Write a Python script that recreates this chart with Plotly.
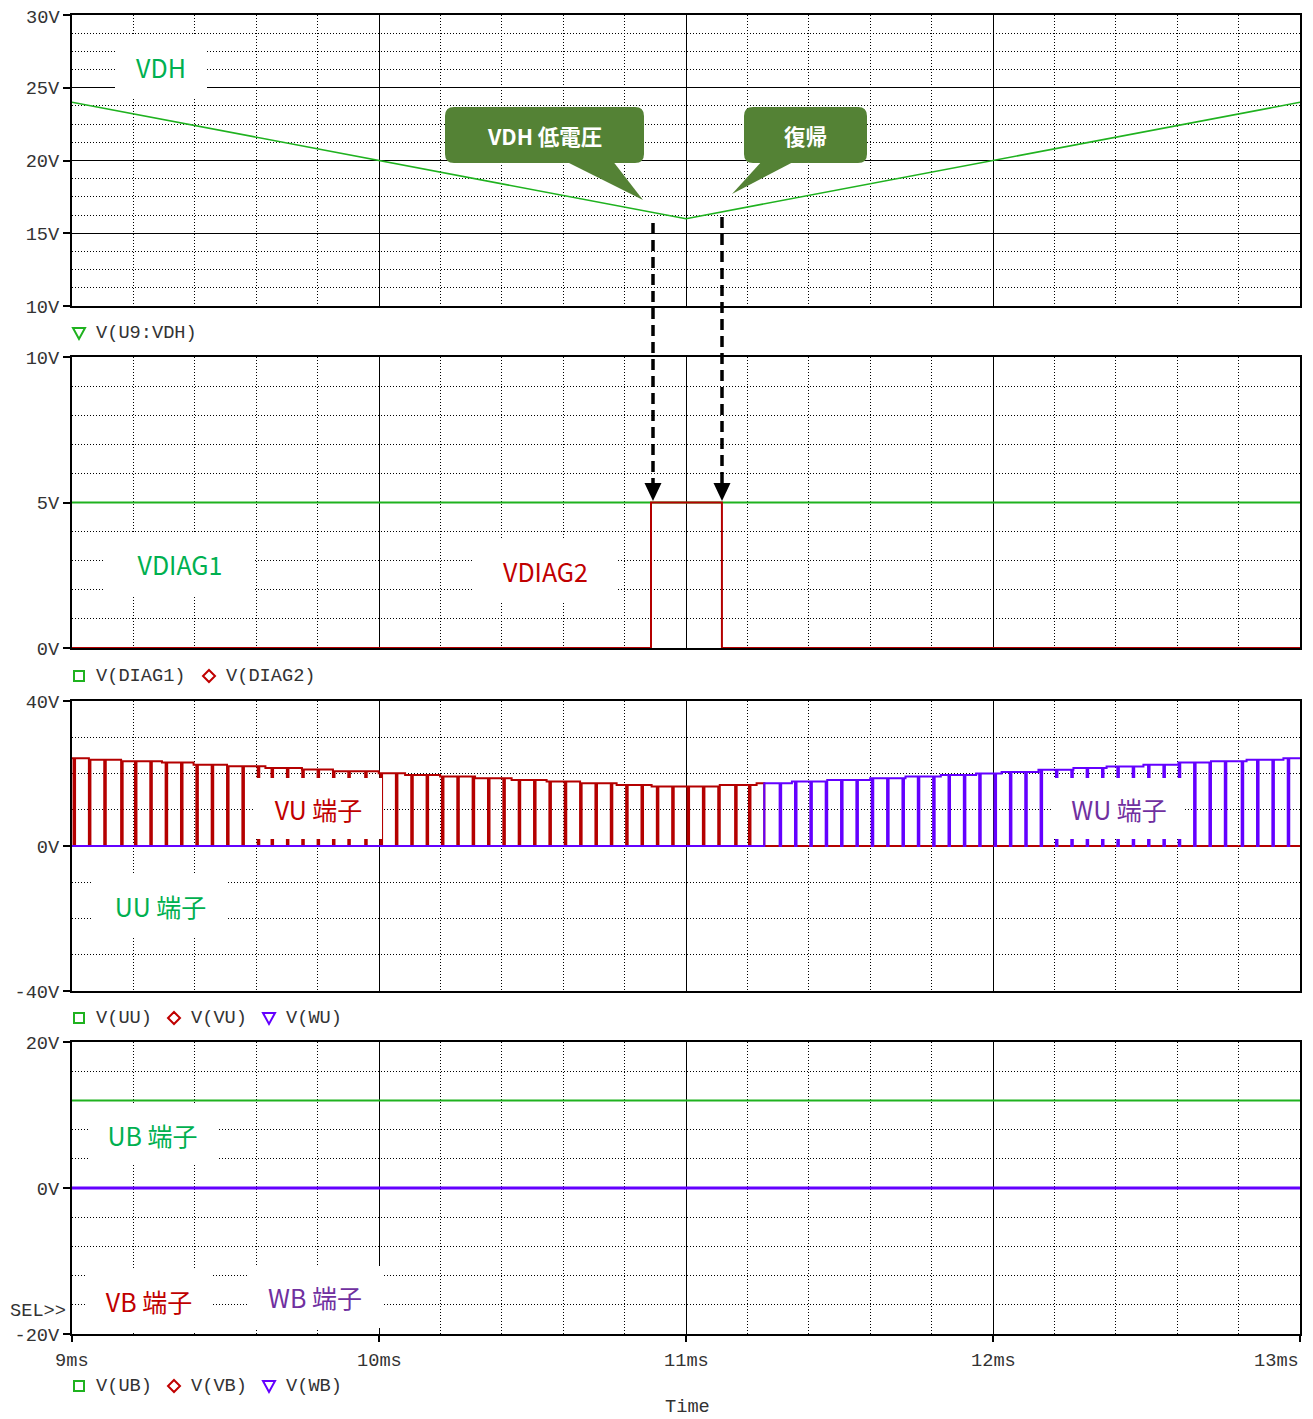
import plotly.graph_objects as go

# ---------------- data ----------------
x_tick_vals = [9, 10, 11, 12, 13]
x_tick_text = ["9ms", "10ms", "11ms", "12ms", "13ms"]

# panel 1 : V(U9:VDH)
vdh_t = [9.0, 11.0, 13.0]
vdh_v = [24.0, 16.0, 24.0]
p1_tick_vals = [10, 15, 20, 25, 30]
p1_tick_text = ["10V", "15V", "20V", "25V", "30V"]

# panel 2 : V(DIAG1), V(DIAG2)
diag1_t = [9.0, 13.0]
diag1_v = [5.0, 5.0]
diag2_t = [9.0, 10.886, 11.117, 13.0]
diag2_v = [0.0, 5.0, 0.0, 0.0]
p2_tick_vals = [0, 5, 10]
p2_tick_text = ["0V", "5V", "10V"]

# panel 3 : V(UU), V(VU), V(WU)  -- high level envelope (step breakpoints) + low-pulse instants
env_t = [9.000, 9.056, 9.160, 9.293, 9.396, 9.510, 9.630, 9.749, 9.852, 9.999,
         10.085, 10.199, 10.313, 10.432, 10.546, 10.655, 10.774, 10.888, 11.105, 11.230,
         11.345, 11.460, 11.600, 11.715, 11.830, 11.945, 12.028, 12.148, 12.262, 12.370,
         12.490, 12.604, 12.707, 12.826, 12.946]
env_v = [24.2, 23.8, 23.4, 23.0, 22.4, 22.0, 21.5, 21.1, 20.6, 20.1,
         19.6, 19.2, 18.7, 18.2, 17.8, 17.3, 16.8, 16.4, 16.8, 17.3,
         17.8, 18.2, 18.7, 19.2, 19.6, 20.0, 20.4, 21.0, 21.5, 21.9,
         22.4, 23.0, 23.4, 23.8, 24.2]
vu_low_t = [9.005, 9.055, 9.105, 9.160, 9.205, 9.255, 9.305, 9.355, 9.405, 9.455,
            9.505, 9.555, 9.605, 9.650, 9.700, 9.750, 9.800, 9.850, 9.900, 9.955,
            10.005, 10.055, 10.105, 10.155, 10.205, 10.255, 10.305, 10.355, 10.405, 10.455,
            10.505, 10.555, 10.605, 10.655, 10.705, 10.755, 10.805, 10.855, 10.905, 10.955,
            11.005, 11.055, 11.105, 11.160, 11.205]
wu_low_t = [11.305, 11.355, 11.405, 11.455, 11.505, 11.555, 11.605, 11.655, 11.705, 11.755,
            11.805, 11.855, 11.905, 11.955, 12.005, 12.055, 12.105, 12.155, 12.205, 12.255,
            12.305, 12.355, 12.405, 12.455, 12.505, 12.555, 12.605, 12.655, 12.705, 12.755,
            12.810, 12.860, 12.910, 12.960]
phase_switch_t = 11.255
pulse_width_ms = 0.005
uu_t = [9.0, 13.0]
uu_v = [0.0, 0.0]
p3_tick_vals = [-40, 0, 40]
p3_tick_text = ["-40V", "0V", "40V"]

# panel 4 : V(UB), V(VB), V(WB)
boot_t = [9.0, 13.0]
ub_v = [12.0, 12.0]
vb_v = [0.0, 0.0]
wb_v = [0.0, 0.0]
p4_tick_vals = [-20, 0, 20]
p4_tick_text = ["-20V", "0V", "20V"]

# ---------------- geometry helpers ----------------
PAGE_W, PAGE_H = 1313, 1419
BODY = 8                      # default page body margin
W, H = PAGE_W - BODY, PAGE_H - BODY
PL, PR = 72, 1300             # plot area in page pixels


def PX(px):
    return (px - PL) / (PR - PL)


def PY(py):
    return (H - (py - BODY)) / H


GREEN = "#1fb21f"
RED = "#b40000"
PURPLE = "#6400ff"
LBL_GREEN = "#00b050"
LBL_RED = "#c00000"
LBL_PURPLE = "#7030a0"
CALLOUT = "#548235"
MONO = "Liberation Mono"
JP = "Noto Sans CJK JP"
TXT = "#333333"


def env_at(t):
    lvl = env_v[0]
    for et, ev in zip(env_t, env_v):
        if et <= t + 1e-9:
            lvl = ev
        else:
            break
    return lvl


def pwm_wave(lows, t_on, t_off, end_high):
    pts = {t_on, t_off}
    for et in env_t:
        if t_on < et < t_off:
            pts.add(et)
    for tl in lows:
        pts.add(tl)
        pts.add(round(tl + pulse_width_ms, 6))
    times = sorted(p for p in pts if t_on <= p <= t_off)
    xs, ys = [], []
    if t_on > 9.0:
        xs.append(9.0)
        ys.append(0.0)
    for tt in times:
        if tt >= t_off and not end_high:
            v = 0.0
        elif any(tl <= tt < tl + pulse_width_ms - 1e-9 for tl in lows):
            v = 0.0
        else:
            v = env_at(tt)
        xs.append(tt)
        ys.append(v)
    if t_off < 13.0:
        xs.append(13.0)
        ys.append(0.0)
    return xs, ys


vu_x, vu_y = pwm_wave(vu_low_t, 9.0, phase_switch_t, False)
wu_x, wu_y = pwm_wave(wu_low_t, phase_switch_t, 13.0, True)

# panel vertical pixel extents (top, bottom) in page pixels
panels_px = [(15, 306), (357, 648), (701, 991), (1042, 1334)]
domains = [[PY(b), PY(t)] for (t, b) in panels_px]

fig = go.Figure()

fig.add_trace(go.Scatter(x=vdh_t, y=vdh_v, mode="lines", line=dict(color=GREEN, width=1.6),
                         xaxis="x", yaxis="y", showlegend=False))
fig.add_trace(go.Scatter(x=diag1_t, y=diag1_v, mode="lines", line=dict(color=GREEN, width=2),
                         xaxis="x2", yaxis="y2", showlegend=False))
fig.add_trace(go.Scatter(x=diag2_t, y=diag2_v, mode="lines", line=dict(color=RED, width=2, shape="hv"),
                         xaxis="x2", yaxis="y2", showlegend=False))
fig.add_trace(go.Scatter(x=uu_t, y=uu_v, mode="lines", line=dict(color=GREEN, width=2),
                         xaxis="x3", yaxis="y3", showlegend=False))
fig.add_trace(go.Scatter(x=vu_x, y=vu_y, mode="lines", line=dict(color=RED, width=2, shape="hv"),
                         xaxis="x3", yaxis="y3", showlegend=False))
fig.add_trace(go.Scatter(x=wu_x, y=wu_y, mode="lines", line=dict(color=PURPLE, width=2, shape="hv"),
                         xaxis="x3", yaxis="y3", showlegend=False))
fig.add_trace(go.Scatter(x=boot_t, y=ub_v, mode="lines", line=dict(color=GREEN, width=2),
                         xaxis="x4", yaxis="y4", showlegend=False))
fig.add_trace(go.Scatter(x=boot_t, y=vb_v, mode="lines", line=dict(color=RED, width=2),
                         xaxis="x4", yaxis="y4", showlegend=False))
fig.add_trace(go.Scatter(x=boot_t, y=wb_v, mode="lines", line=dict(color=PURPLE, width=3),
                         xaxis="x4", yaxis="y4", showlegend=False))

DOT = "1px,2px"


def xcfg(idx, bottom):
    return dict(range=[9, 13], domain=[0, 1], anchor="y" + ("" if idx == 1 else str(idx)),
                tickmode="array", tickvals=x_tick_vals, showticklabels=False,
                ticks="outside" if bottom else "", ticklen=6, tickwidth=1.5, tickcolor="black",
                showgrid=True, gridcolor="black", gridwidth=1,
                minor=dict(tickmode="linear", tick0=9, dtick=0.2, showgrid=True, gridcolor="black",
                           gridwidth=1, griddash=DOT, ticks=""),
                showline=True, linecolor="black", linewidth=2, mirror=True, zeroline=False,
                automargin=False, fixedrange=True)


def ycfg(idx, rng, tv, tt, mdt):
    return dict(range=rng, domain=domains[idx - 1], anchor="x" + ("" if idx == 1 else str(idx)),
                tickmode="array", tickvals=tv, ticktext=tt,
                ticks="outside", ticklen=7, tickwidth=1.5, tickcolor="black",
                tickfont=dict(family=MONO, size=18.67, color=TXT),
                showgrid=True, gridcolor="black", gridwidth=1,
                minor=dict(tickmode="linear", tick0=rng[0], dtick=mdt, showgrid=True, gridcolor="black",
                           gridwidth=1, griddash=DOT, ticks=""),
                showline=True, linecolor="black", linewidth=2, mirror=True, zeroline=False,
                automargin=False, fixedrange=True)


fig.update_layout(
    template="none",
    width=W, height=H, autosize=False,
    margin=dict(l=PL - BODY, r=(W + BODY) - PR, t=0, b=0, pad=0, autoexpand=False),
    paper_bgcolor="white", plot_bgcolor="white",
    showlegend=False,
    xaxis=xcfg(1, False), xaxis2=xcfg(2, False), xaxis3=xcfg(3, False), xaxis4=xcfg(4, True),
    yaxis=ycfg(1, [10, 30], p1_tick_vals, p1_tick_text, 1.25),
    yaxis2=ycfg(2, [0, 10], p2_tick_vals, p2_tick_text, 1),
    yaxis3=ycfg(3, [-40, 40], p3_tick_vals, p3_tick_text, 10),
    yaxis4=ycfg(4, [-20, 20], p4_tick_vals, p4_tick_text, 4),
)

annotations = []
shapes = []

# top tick label of the first panel sits at the very edge of the page: draw it explicitly
annotations.append(dict(x=PX(61), y=p1_tick_vals[-1], xref="paper", yref="y", text=p1_tick_text[-1],
                        showarrow=False, xanchor="right", yanchor="middle", yshift=-3, borderpad=0,
                        font=dict(family=MONO, size=18.67, color=TXT)))

for i, (v, t) in enumerate(zip(x_tick_vals, x_tick_text)):
    last = i == len(x_tick_vals) - 1
    annotations.append(dict(x=v, y=PY(1361), xref="x4", yref="paper", text=t, showarrow=False,
                            xanchor="right" if last else "center", yanchor="middle",
                            xshift=1 if last else 0,
                            font=dict(family=MONO, size=18.67, color=TXT)))
annotations.append(dict(x=PX(687), y=PY(1407), xref="paper", yref="paper", text="Time", showarrow=False,
                        xanchor="center", yanchor="middle", borderpad=0,
                        font=dict(family=MONO, size=18.67, color=TXT)))
annotations.append(dict(x=PX(8), y=PY(1311), xref="paper", yref="paper", text="SEL&gt;&gt;", showarrow=False,
                        xanchor="left", yanchor="middle", font=dict(family=MONO, size=18.67, color=TXT)))

legend_rows = [
    (333, [("tri", GREEN, "V(U9:VDH)", 79)]),
    (676, [("sq", GREEN, "V(DIAG1)", 79), ("dia", LBL_RED, "V(DIAG2)", 209)]),
    (1018, [("sq", GREEN, "V(UU)", 79), ("dia", LBL_RED, "V(VU)", 174), ("tri", PURPLE, "V(WU)", 269)]),
    (1386, [("sq", GREEN, "V(UB)", 79), ("dia", LBL_RED, "V(VB)", 174), ("tri", PURPLE, "V(WB)", 269)]),
]


def sym_path(kind, cx, cy):
    if kind == "sq":
        pts = [(cx - 5, cy - 5), (cx + 5, cy - 5), (cx + 5, cy + 5), (cx - 5, cy + 5)]
    elif kind == "dia":
        pts = [(cx, cy - 6), (cx + 6, cy), (cx, cy + 6), (cx - 6, cy)]
    else:
        pts = [(cx - 6, cy - 5), (cx + 6, cy - 5), (cx, cy + 6)]
    return "M " + " L ".join(f"{PX(x):.6f},{PY(y):.6f}" for x, y in pts) + " Z"


for cy, items in legend_rows:
    for kind, col, txt, sx in items:
        shapes.append(dict(type="path", xref="paper", yref="paper", path=sym_path(kind, sx, cy),
                           line=dict(color=col, width=2), fillcolor="rgba(0,0,0,0)", layer="above"))
        annotations.append(dict(x=PX(sx + 15), y=PY(cy), xref="paper", yref="paper", text=txt,
                                showarrow=False, xanchor="left", yanchor="middle",
                                font=dict(family=MONO, size=18.67, color=TXT)))

labels = [
    ("VDH", 161, 66, 92, 61, LBL_GREEN),
    ("VDIAG1", 180, 564, 150, 62, LBL_GREEN),
    ("VDIAG2", 545, 571, 145, 62, LBL_RED),
    ("VU 端子", 318, 808, 127, 61, LBL_RED),
    ("WU 端子", 1119, 808, 132, 61, LBL_PURPLE),
    ("UU 端子", 160, 906, 135, 62, LBL_GREEN),
    ("UB 端子", 152, 1135, 129, 60, LBL_GREEN),
    ("VB 端子", 149, 1301, 126, 62, LBL_RED),
    ("WB 端子", 315, 1297, 134, 62, LBL_PURPLE),
]
for txt, cx, cy, w, h, col in labels:
    annotations.append(dict(x=PX(cx), y=PY(cy), xref="paper", yref="paper", text=txt, showarrow=False,
                            xanchor="center", yanchor="middle", width=w, height=h, bgcolor="white",
                            borderpad=0, borderwidth=0, align="center", valign="middle",
                            font=dict(family=JP, size=25, color=col)))


def rrect(x0, y0, x1, y1, r):
    P = lambda x, y: f"{PX(x):.6f},{PY(y):.6f}"
    return ("M " + P(x0 + r, y0) + " L " + P(x1 - r, y0) + " Q " + P(x1, y0) + " " + P(x1, y0 + r) +
            " L " + P(x1, y1 - r) + " Q " + P(x1, y1) + " " + P(x1 - r, y1) +
            " L " + P(x0 + r, y1) + " Q " + P(x0, y1) + " " + P(x0, y1 - r) +
            " L " + P(x0, y0 + r) + " Q " + P(x0, y0) + " " + P(x0 + r, y0) + " Z")


def tri(pts):
    return "M " + " L ".join(f"{PX(x):.6f},{PY(y):.6f}" for x, y in pts) + " Z"


callouts = [
    ("VDH 低電圧", (445, 107, 644, 163), [(563, 160), (612, 160), (643, 200)]),
    ("復帰", (744, 107, 867, 163), [(763, 160), (797, 160), (732, 194)]),
]
for txt, (x0, y0, x1, y1), ptr in callouts:
    shapes.append(dict(type="path", xref="paper", yref="paper", path=rrect(x0, y0, x1, y1, 9),
                       fillcolor=CALLOUT, line=dict(width=0), layer="above"))
    shapes.append(dict(type="path", xref="paper", yref="paper", path=tri(ptr),
                       fillcolor=CALLOUT, line=dict(width=0), layer="above"))
    annotations.append(dict(x=PX((x0 + x1) / 2), y=PY((y0 + y1) / 2), xref="paper", yref="paper",
                            text="<b>" + txt + "</b>", showarrow=False, xanchor="center", yanchor="middle",
                            font=dict(family=JP, size=21.5, color="white")))

for ax_px, top_px in [(653, 223), (722, 217)]:
    shapes.append(dict(type="line", xref="paper", yref="paper", x0=PX(ax_px), x1=PX(ax_px),
                       y0=PY(top_px), y1=PY(486), line=dict(color="black", width=3.5, dash="11px,6px"),
                       layer="above"))
    shapes.append(dict(type="path", xref="paper", yref="paper",
                       path=tri([(ax_px - 8.5, 483), (ax_px + 8.5, 483), (ax_px, 501)]),
                       fillcolor="black", line=dict(width=0), layer="above"))

fig.update_layout(annotations=annotations, shapes=shapes)
fig.write_html("out.html")
